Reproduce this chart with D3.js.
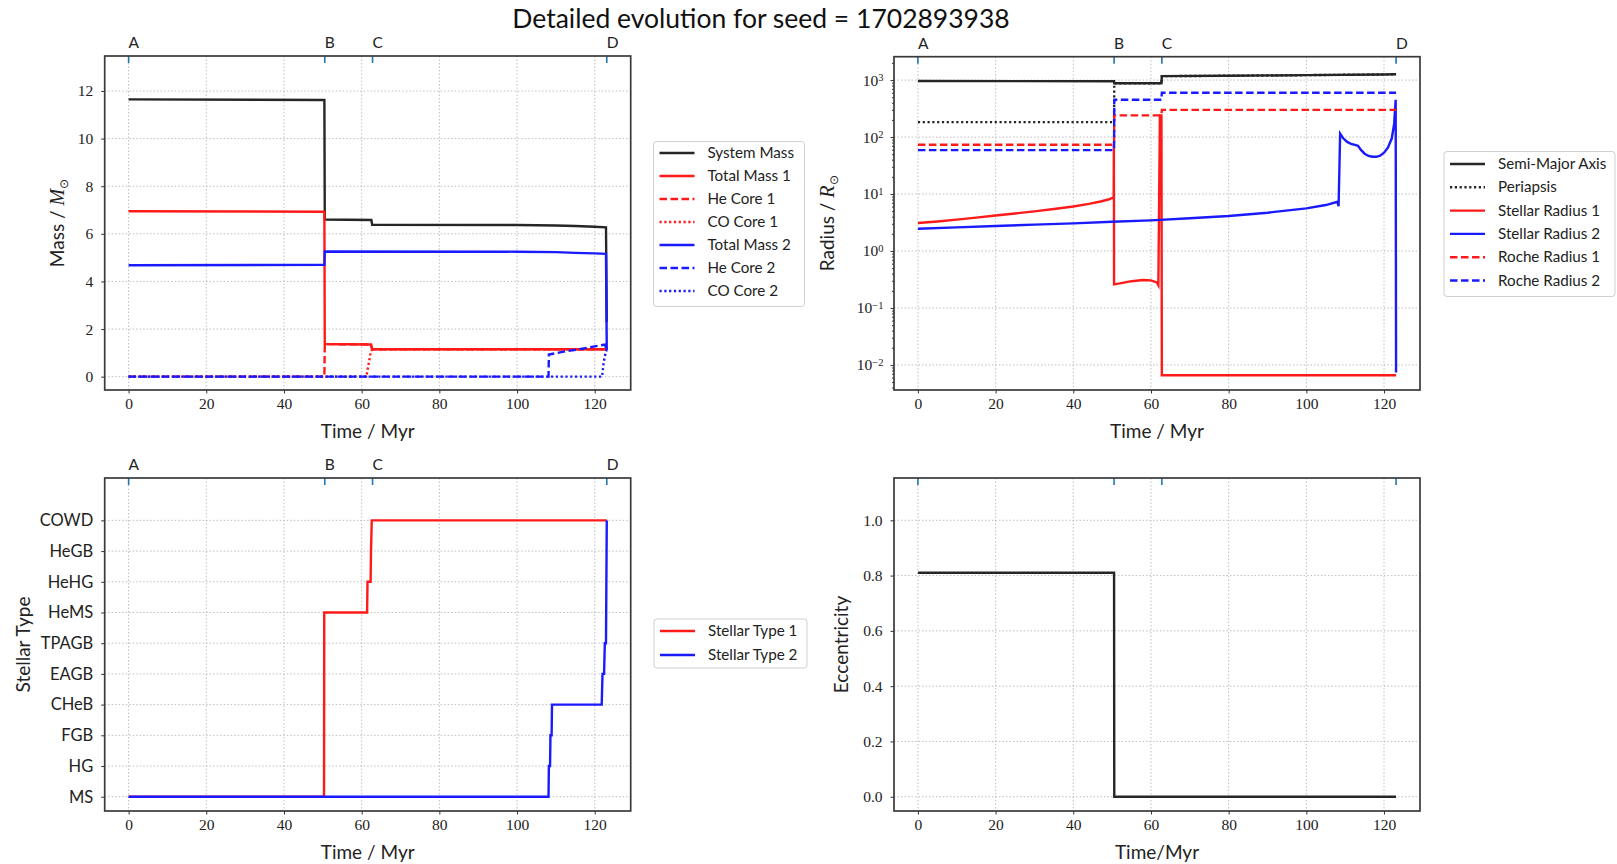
<!DOCTYPE html>
<html>
<head>
<meta charset="utf-8">
<script src="https://cdn.jsdelivr.net/npm/d3@7"></script>
<style>
  body { margin: 0; background: #fff; }
  svg { display: block; }
</style>
</head>
<body>
<svg id="fig" width="1617" height="864"></svg>
<script>
// ---- data: time in Myr ----
const timeTicks = [0, 20, 40, 60, 80, 100, 120];
const eventTimes = [0, 50.5, 62.8, 123.1];
const eventLabels = ["A", "B", "C", "D"];

// masses [t, M/Msun]
const systemMass = [[0, 11.65], [50.4, 11.62], [50.5, 6.6], [62.5, 6.58], [62.7, 6.38], [100, 6.37], [110, 6.35], [115, 6.33], [120, 6.3], [122.9, 6.27], [123.1, 2.3]];
const totalMass1 = [[0, 6.95], [50.4, 6.93], [50.5, 1.37], [62.4, 1.35], [62.7, 1.15], [123.1, 1.15]];
const heCore1 = [[0, 0], [50.4, 0], [50.5, 1.37], [62.4, 1.35], [62.7, 1.15], [123.1, 1.15]];
const coCore1 = [[0, 0], [61.2, 0], [62.3, 1.0], [62.7, 1.15], [123.1, 1.15]];
const totalMass2 = [[0, 4.68], [50.4, 4.7], [50.5, 5.26], [100, 5.25], [110, 5.23], [115, 5.2], [120, 5.18], [122.9, 5.16], [123.1, 1.12]];
const heCore2 = [[0, 0], [108.1, 0], [108.2, 0.93], [112, 1.05], [116, 1.15], [120, 1.27], [122.6, 1.35], [123.1, 1.12]];
const coCore2 = [[0, 0], [121.9, 0], [122.3, 0.6], [122.8, 1.0], [123.1, 1.12]];
const massTicks = [0, 2, 4, 6, 8, 10, 12];

// radii and separations [t, R/Rsun]
const semiMajorAxis = [[0, 960], [50.5, 955], [50.55, 880], [62.7, 880], [62.8, 1170], [80, 1190], [100, 1220], [120, 1255], [123.1, 1265]];
const periapsis = [[0, 183], [50.5, 183], [50.55, 880], [62.7, 880], [62.8, 1170], [80, 1190], [100, 1220], [120, 1255], [123.1, 1265]];
const stellarRadius1 = [[0, 3.1], [5, 3.3], [10, 3.55], [15, 3.85], [20, 4.2], [25, 4.55], [30, 4.95], [35, 5.45], [40, 6.05], [44, 6.7], [47, 7.4], [49, 8.0], [50.4, 8.7], [50.45, 70], [50.5, 0.26], [52, 0.27], [55, 0.295], [58, 0.31], [60, 0.305], [61.5, 0.28], [61.9, 0.25], [62.3, 240], [62.7, 240], [62.8, 0.0066], [123.1, 0.0066]];
const stellarRadius2 = [[0, 2.45], [10, 2.6], [20, 2.75], [30, 2.9], [40, 3.05], [50, 3.25], [60, 3.45], [70, 3.75], [80, 4.1], [90, 4.7], [100, 5.6], [105, 6.4], [108, 7.3], [108.3, 6.1], [108.7, 115], [109.5, 95], [110.5, 82], [111.5, 76], [112.5, 73], [113.3, 70], [114, 60], [115, 51], [116, 46.5], [117, 45], [118, 45], [119, 47], [120, 53], [121, 65], [122, 95], [122.6, 170], [123.0, 450], [123.1, 0.0074]];
const rocheRadius1 = [[0, 73], [50.5, 73], [50.55, 240], [62.7, 240], [62.8, 300], [123.1, 300]];
const rocheRadius2 = [[0, 59], [50.5, 59], [50.55, 450], [62.7, 450], [62.8, 600], [123.1, 600]];
const radiusTicks = [1e-2, 1e-1, 1e0, 1e1, 1e2, 1e3];

// stellar types, drawn on an index axis
const stellarTypeNames = ["MS", "HG", "FGB", "CHeB", "EAGB", "TPAGB", "HeMS", "HeHG", "HeGB", "COWD"];
const stellarType1 = [[0, 0], [50.3, 0], [50.32, 1], [50.36, 6], [61.4, 6], [61.5, 7], [62.3, 7], [62.4, 8], [62.6, 9], [123.1, 9]];
const stellarType2 = [[0, 0], [108.1, 0], [108.2, 1], [108.5, 1], [108.6, 2], [108.9, 2], [109.0, 3], [121.8, 3], [122.0, 4], [122.4, 4], [122.6, 5], [122.9, 5], [123.1, 9]];

// eccentricity [t, e]
const eccentricity = [[0, 0.81], [50.5, 0.81], [50.55, 0], [123.1, 0]];
const eccTicks = [0, 0.2, 0.4, 0.6, 0.8, 1.0];

// ---- styling ----
const SANS = "Lato, 'Open Sans', sans-serif";
const SERIF = "'Liberation Serif', 'DejaVu Serif', serif";
const RED = "#ff1a1a", BLUE = "#1a1aff", BLACK = "#262626";
const DASH = "7.5,3.5", DOT = "2.2,2.6";
const LW = 2.4;
const xDomain = [-6.155, 129.26];

const svg = d3.select("#fig");

svg.append("text")
  .attr("x", 761).attr("y", 28)
  .attr("text-anchor", "middle")
  .attr("font-family", SANS).attr("font-size", 26.5).attr("fill", "#111")
  .text("Detailed evolution for seed = 1702893938");

let clipId = 0;
function panel(cfg) {
  const g = svg.append("g");
  const x = d3.scaleLinear().domain(xDomain).range([cfg.l, cfg.r]);
  const y = cfg.y.range([cfg.b, cfg.t]);
  const id = "clip" + (clipId++);
  g.append("clipPath").attr("id", id).append("rect")
    .attr("x", cfg.l).attr("y", cfg.t).attr("width", cfg.r - cfg.l).attr("height", cfg.b - cfg.t);

  // grid
  const grid = g.append("g").attr("stroke", "#b8b8b8").attr("stroke-width", 0.9).attr("stroke-dasharray", "1.5,2");
  grid.selectAll(".vx").data(timeTicks).join("line")
    .attr("x1", d => x(d)).attr("x2", d => x(d)).attr("y1", cfg.t).attr("y2", cfg.b);
  grid.selectAll(".hy").data(cfg.yTicks).join("line")
    .attr("x1", cfg.l).attr("x2", cfg.r).attr("y1", d => y(d)).attr("y2", d => y(d));

  // series
  const line = d3.line().x(d => x(d[0])).y(d => y(d[1]));
  const lines = g.append("g").attr("clip-path", `url(#${id})`);
  cfg.series.forEach(s => {
    lines.append("path").datum(s.data)
      .attr("d", line)
      .attr("fill", "none")
      .attr("stroke", s.color)
      .attr("stroke-width", LW)
      .attr("stroke-dasharray", s.dash || null)
      .attr("stroke-linejoin", "miter");
  });

  // bottom axis
  const xa = g.append("g").attr("transform", `translate(0,${cfg.b})`)
    .call(d3.axisBottom(x).tickValues(timeTicks).tickSize(3.5).tickPadding(4).tickFormat(d3.format("d")));
  xa.select(".domain").remove();
  xa.selectAll(".tick line").attr("stroke", "#333");
  xa.selectAll(".tick text").attr("font-family", SERIF).attr("font-size", 15.5).attr("fill", "#222");

  // left axis
  const ya = g.append("g").attr("transform", `translate(${cfg.l},0)`)
    .call(d3.axisLeft(y).tickValues(cfg.yTicks).tickSize(3.5).tickPadding(cfg.yPad || 8).tickFormat(cfg.yFormat));
  ya.select(".domain").remove();
  ya.selectAll(".tick line").attr("stroke", "#333");
  ya.selectAll(".tick text").attr("font-family", cfg.yFont || SERIF).attr("font-size", cfg.yFontSize || 15.5).attr("fill", "#222");
  if (cfg.after) cfg.after(ya, g, y);

  // event markers on the top edge
  g.selectAll(".ev").data(eventTimes).join("line")
    .attr("x1", d => x(d)).attr("x2", d => x(d))
    .attr("y1", cfg.t).attr("y2", cfg.t + 7)
    .attr("stroke", "#1f77b4").attr("stroke-width", 1.6);
  if (cfg.eventText) {
    g.selectAll(".evt").data(eventTimes).join("text")
      .attr("x", d => x(d)).attr("y", cfg.t - 8)
      .attr("font-family", SANS).attr("font-size", 15.5).attr("fill", "#222")
      .text((d, i) => eventLabels[i]);
  }

  // frame
  g.append("rect")
    .attr("x", cfg.l).attr("y", cfg.t).attr("width", cfg.r - cfg.l).attr("height", cfg.b - cfg.t)
    .attr("fill", "none").attr("stroke", "#3a3a3a").attr("stroke-width", 1.7);

  // axis titles
  g.append("text")
    .attr("x", (cfg.l + cfg.r) / 2).attr("y", cfg.b + 48)
    .attr("text-anchor", "middle")
    .attr("font-family", SANS).attr("font-size", 19).attr("fill", "#222")
    .text(cfg.xLabel);
  const yl = g.append("text")
    .attr("transform", `translate(${cfg.yLabelX},${(cfg.t + cfg.b) / 2}) rotate(-90)`)
    .attr("text-anchor", "middle")
    .attr("font-family", SANS).attr("font-size", 19).attr("fill", "#222");
  cfg.yLabel(yl);

  // legend
  if (cfg.legend) {
    const L = cfg.legend;
    const lg = g.append("g");
    lg.append("rect")
      .attr("x", L.x).attr("y", L.y).attr("width", L.w).attr("height", L.h)
      .attr("rx", 3).attr("fill", "#fff").attr("stroke", "#d0d0d0").attr("stroke-width", 1);
    cfg.series.forEach((s, i) => {
      const yy = L.y0 + i * L.step;
      lg.append("line")
        .attr("x1", L.x + 6).attr("x2", L.x + 41).attr("y1", yy).attr("y2", yy)
        .attr("stroke", s.color).attr("stroke-width", 2.4).attr("stroke-dasharray", s.dash || null);
      lg.append("text")
        .attr("x", L.x + 54).attr("y", yy + 5)
        .attr("font-family", SANS).attr("font-size", 15.2).attr("fill", "#222")
        .text(s.name);
    });
  }
}

function subLabel(sel, pre, sym) {
  sel.append("tspan").text(pre);
  sel.append("tspan").attr("font-style", "italic").attr("font-family", SERIF).attr("font-size", 20).text(sym);
  sel.append("tspan").attr("font-size", 12).attr("dy", 4).text("\u2299");
}

// Mass panel
panel({
  l: 104.7, r: 630.7, t: 56, b: 390,
  y: d3.scaleLinear().domain([-0.56, 13.47]),
  yTicks: massTicks, yFormat: d3.format("d"),
  eventText: true,
  xLabel: "Time / Myr", yLabelX: 64,
  yLabel: s => subLabel(s, "Mass / ", "M"),
  series: [
    { name: "System Mass", data: systemMass, color: BLACK },
    { name: "Total Mass 1", data: totalMass1, color: RED },
    { name: "He Core 1", data: heCore1, color: RED, dash: DASH },
    { name: "CO Core 1", data: coCore1, color: RED, dash: DOT },
    { name: "Total Mass 2", data: totalMass2, color: BLUE },
    { name: "He Core 2", data: heCore2, color: BLUE, dash: DASH },
    { name: "CO Core 2", data: coCore2, color: BLUE, dash: DOT }
  ],
  legend: { x: 653.5, y: 141.5, w: 151, h: 165, y0: 153, step: 23 }
});

// Radius panel (log scale)
panel({
  l: 894, r: 1420, t: 56.7, b: 390,
  y: d3.scaleLog().domain([Math.pow(10, -2.44), Math.pow(10, 3.41)]),
  yTicks: radiusTicks, yFormat: () => "",
  yPad: 7,
  eventText: true,
  xLabel: "Time / Myr", yLabelX: 834,
  yLabel: s => subLabel(s, "Radius / ", "R"),
  after: (ya, g, y) => {
    ya.selectAll(".tick text").each(function (d) {
      const e = Math.round(Math.log10(d));
      const t = d3.select(this);
      t.text("10");
      t.append("tspan").attr("dy", "-0.45em").attr("font-size", 10.5).text(e < 0 ? "\u2212" + (-e) : String(e));
    });
    const minors = [];
    for (let k = -3; k <= 3; k++) for (let m = 2; m <= 9; m++) {
      const v = m * Math.pow(10, k);
      if (v > y.domain()[0] && v < y.domain()[1]) minors.push(v);
    }
    const mg = g.append("g").attr("transform", `translate(${894},0)`)
      .call(d3.axisLeft(y).tickValues(minors).tickSize(2).tickFormat(""));
    mg.select(".domain").remove();
    mg.selectAll(".tick line").attr("stroke", "#333");
  },
  series: [
    { name: "Semi-Major Axis", data: semiMajorAxis, color: BLACK },
    { name: "Periapsis", data: periapsis, color: BLACK, dash: DOT },
    { name: "Stellar Radius 1", data: stellarRadius1, color: RED },
    { name: "Stellar Radius 2", data: stellarRadius2, color: BLUE },
    { name: "Roche Radius 1", data: rocheRadius1, color: RED, dash: DASH },
    { name: "Roche Radius 2", data: rocheRadius2, color: BLUE, dash: DASH }
  ],
  legend: { x: 1444, y: 151.5, w: 171, h: 145, y0: 164, step: 23.3 }
});

// Stellar type panel
panel({
  l: 104.7, r: 630.7, t: 478, b: 811,
  y: d3.scaleLinear().domain([-0.465, 10.38]),
  yTicks: d3.range(stellarTypeNames.length), yFormat: i => stellarTypeNames[i],
  yFont: SANS, yFontSize: 16.5,
  eventText: true,
  xLabel: "Time / Myr", yLabelX: 30,
  yLabel: s => s.text("Stellar Type"),
  series: [
    { name: "Stellar Type 1", data: stellarType1, color: RED },
    { name: "Stellar Type 2", data: stellarType2, color: BLUE }
  ],
  legend: { x: 654, y: 619, w: 153, h: 49, y0: 631, step: 24 }
});

// Eccentricity panel
panel({
  l: 894, r: 1420, t: 478, b: 811,
  y: d3.scaleLinear().domain([-0.0516, 1.153]),
  yTicks: eccTicks, yFormat: d3.format(".1f"),
  eventText: false,
  xLabel: "Time/Myr", yLabelX: 848,
  yLabel: s => s.text("Eccentricity"),
  series: [
    { name: "Eccentricity", data: eccentricity, color: BLACK }
  ]
});
</script>
</body>
</html>
